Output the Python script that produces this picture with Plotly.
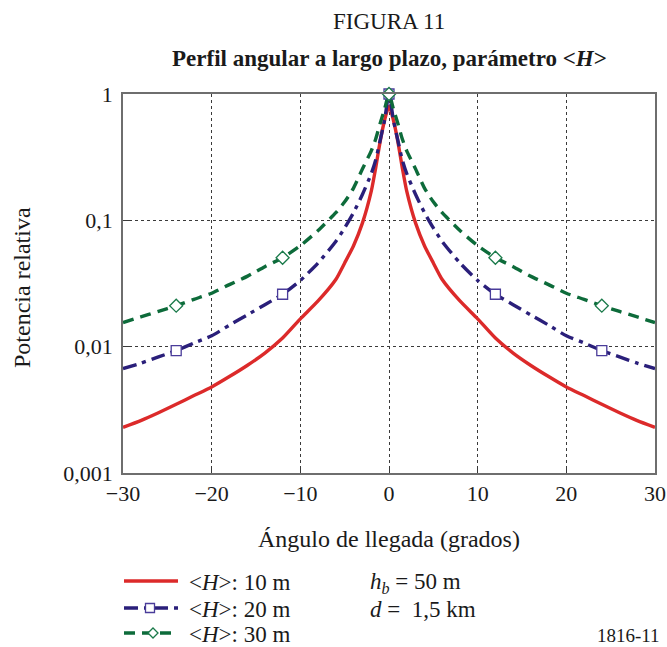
import plotly.graph_objects as go

angles = [-30, -28, -26, -24, -22, -20, -18, -16, -14, -12, -10, -8, -6, -5, -4, -3, -2, -1.5, -1, -0.5,
          0, 0.5, 1, 1.5, 2, 3, 4, 5, 6, 8, 10, 12, 14, 16, 18, 20, 22, 24, 26, 28, 30]

h10 = [0.0023, 0.0026, 0.0030, 0.0035, 0.0041, 0.0048, 0.0058, 0.0071, 0.0089, 0.0117, 0.0166, 0.0230,
       0.034, 0.046, 0.063, 0.095, 0.17, 0.26, 0.42, 0.62,
       0.80, 0.62, 0.42, 0.26, 0.17, 0.095, 0.063, 0.046, 0.034, 0.0230, 0.0166, 0.0117, 0.0089, 0.0071,
       0.0058, 0.0048, 0.0041, 0.0035, 0.0030, 0.0026, 0.0023]

h20 = [0.0067, 0.0074, 0.0083, 0.0093, 0.0107, 0.0122, 0.0148, 0.0178, 0.0215, 0.026, 0.0334, 0.046,
       0.068, 0.087, 0.115, 0.16, 0.234, 0.30, 0.43, 0.62,
       1.0, 0.62, 0.43, 0.30, 0.234, 0.16, 0.115, 0.087, 0.068, 0.046, 0.0334, 0.026, 0.0215, 0.0178,
       0.0148, 0.0122, 0.0107, 0.0093, 0.0083, 0.0074, 0.0067]

h30 = [0.0155, 0.0172, 0.019, 0.0211, 0.0237, 0.0265, 0.031, 0.036, 0.0430, 0.0506, 0.063, 0.083,
       0.115, 0.14, 0.18, 0.255, 0.355, 0.44, 0.585, 0.76,
       1.0, 0.76, 0.585, 0.44, 0.355, 0.255, 0.18, 0.14, 0.115, 0.083, 0.063, 0.0506, 0.0430, 0.036,
       0.031, 0.0265, 0.0237, 0.0211, 0.019, 0.0172, 0.0155]

marker_angles = [-24, -12, 0, 12, 24]

series_names = ["&lt;<i>H</i>&gt;: 10 m", "&lt;<i>H</i>&gt;: 20 m", "&lt;<i>H</i>&gt;: 30 m"]

x_ticks = [-30, -20, -10, 0, 10, 20, 30]
x_ticktext = ["\u221230", "\u221220", "\u221210", "0", "10", "20", "30"]
y_ticks = [0.001, 0.01, 0.1, 1]
y_ticktext = ["0,001", "0,01", "0,1", "1"]

RED = "#dc2a2a"
BLUE = "#2a1f7a"
GREEN = "#0d6b3a"
TXT = "#1a1a1a"
FONT = "Liberation Serif"

W, H = 667, 647
L, R, T, B = 123, 12, 94, 174
PW, PH = W - L - R, H - T - B


def px(x):
    return (x - L) / PW


def py(y):
    return (H - B - y) / PH


fig = go.Figure()

styles = [
    dict(color=RED, width=3.4, dash="solid"),
    dict(color=BLUE, width=3.4, dash="14px,6px,4px,6px"),
    dict(color=GREEN, width=3.4, dash="11px,7px"),
]
marker_styles = [None,
                 dict(symbol="square", size=10, color="white", line=dict(color="#4a3c9a", width=1.3)),
                 dict(symbol="diamond", size=10, color="white", line=dict(color="#1a7a4a", width=1.3))]

for i, ys in enumerate([h10, h20, h30]):
    fig.add_trace(go.Scatter(x=angles, y=ys, mode="lines",
                             line=dict(shape="spline", smoothing=0.6, **styles[i]),
                             showlegend=False, hoverinfo="skip"))

for i, ys in enumerate([h10, h20, h30]):
    if marker_styles[i] is None:
        continue
    my = [ys[angles.index(a)] for a in marker_angles]
    fig.add_trace(go.Scatter(x=marker_angles, y=my, mode="markers", marker=marker_styles[i],
                             showlegend=False, cliponaxis=False, hoverinfo="skip"))

axis_common = dict(showgrid=True, gridcolor="#3a3a3a", griddash="dot", gridwidth=1,
                   showline=True, linecolor="#6e6e6e", linewidth=1.6, mirror=True,
                   ticks="inside", ticklen=6, tickcolor="#3a3a3a",
                   zeroline=False, tickfont=dict(family=FONT, size=22, color=TXT))

fig.update_layout(
    width=W, height=H,
    margin=dict(l=L, r=R, t=T, b=B, autoexpand=False),
    paper_bgcolor="white", plot_bgcolor="white",
    font=dict(family=FONT, size=22, color=TXT),
    showlegend=False,
    xaxis=dict(range=[-30, 30], tickvals=x_ticks, ticktext=x_ticktext, **axis_common),
    yaxis=dict(type="log", range=[-3, 0], tickvals=y_ticks, ticktext=y_ticktext,
               ticklabelstandoff=4, **axis_common),
)


def text(t, x, y, size, xanchor="center", angle=0):
    fig.add_annotation(text=t, x=px(x), y=py(y), xref="paper", yref="paper",
                       showarrow=False, xanchor=xanchor, yanchor="middle", textangle=angle,
                       font=dict(family=FONT, size=size, color=TXT))


text("FIGURA 11", 389, 21, 23)
text("<b>Perfil angular a largo plazo, parámetro &lt;<i>H</i>&gt;</b>", 389, 59, 23)
text("Ángulo de llegada (grados)", 389, 539, 24)
text("Potencia relativa", 22, 288, 24, angle=-90)
text("<i>h</i><sub><i>b</i></sub> = 50 m", 368, 583, 23, xanchor="left")
text("<i>d</i> =&nbsp; 1,5 km", 368, 609, 23, xanchor="left")
text("1816-11", 662, 635, 19, xanchor="right")

# custom legend (sample lines, markers and labels)
legend_rows = [581, 608, 633]
legend_marker_x = [None, 150, 153]
for i in range(3):
    yy = legend_rows[i]
    fig.add_shape(type="line", xref="paper", yref="paper",
                  x0=px(124), x1=px(178), y0=py(yy), y1=py(yy),
                  line=dict(color=styles[i]["color"], width=3.4, dash=styles[i]["dash"]))
    ms = marker_styles[i]
    if ms is not None:
        cx, s = legend_marker_x[i], 4.5
        if ms["symbol"] == "square":
            fig.add_shape(type="rect", xref="paper", yref="paper",
                          x0=px(cx - s), x1=px(cx + s), y0=py(yy - s), y1=py(yy + s),
                          fillcolor="white", line=dict(color=ms["line"]["color"], width=1.3))
        else:
            path = (f"M {px(cx - s - 0.5)},{py(yy)} L {px(cx)},{py(yy - s - 0.5)} "
                    f"L {px(cx + s + 0.5)},{py(yy)} L {px(cx)},{py(yy + s + 0.5)} Z")
            fig.add_shape(type="path", xref="paper", yref="paper", path=path,
                          fillcolor="white", line=dict(color=ms["line"]["color"], width=1.3))
    text(series_names[i], 187, yy + 1, 23, xanchor="left")

fig.write_html("out.html")
